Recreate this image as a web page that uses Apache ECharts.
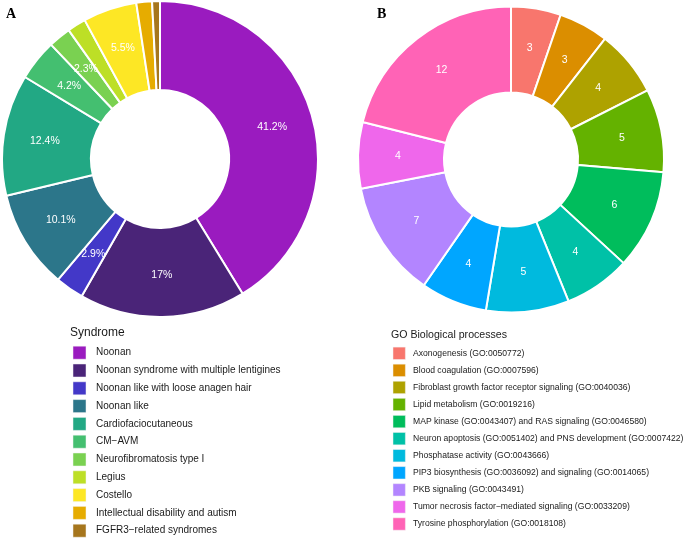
<!DOCTYPE html>
<html><head><meta charset="utf-8">
<script src="https://cdn.jsdelivr.net/npm/echarts@6/dist/echarts.min.js"></script>
<style>html,body{margin:0;padding:0;background:#fff}#c{width:685px;height:538px}</style>
</head><body><div id="c"></div>
<script>
const syndromes = ["Noonan","Noonan syndrome with multiple lentigines","Noonan like with loose anagen hair","Noonan like","Cardiofaciocutaneous","CM\u2212AVM","Neurofibromatosis type I","Legius","Costello","Intellectual disability and autism","FGFR3\u2212related syndromes"];
const syndromePct = [41.2,17,2.9,10.1,12.4,4.2,2.3,1.9,5.5,1.6,0.8];
const syndromeColors = ["#9A1BBF","#4A2478","#4338C8","#2C768A","#22A884","#44BF70","#7AD151","#BDDF26","#FDE725","#E6AC00","#A6761D"];
const goTerms = ["Axonogenesis (GO:0050772)","Blood coagulation (GO:0007596)","Fibroblast growth factor receptor signaling (GO:0040036)","Lipid metabolism (GO:0019216)","MAP kinase (GO:0043407) and RAS signaling (GO:0046580)","Neuron apoptosis (GO:0051402) and PNS development (GO:0007422)","Phosphatase activity (GO:0043666)","PIP3 biosynthesis (GO:0036092) and signaling (GO:0014065)","PKB signaling (GO:0043491)","Tumor necrosis factor\u2212mediated signaling (GO:0033209)","Tyrosine phosphorylation (GO:0018108)"];
const goCounts = [3,3,4,5,6,4,5,4,7,4,12];
const goColors = ["#F8766D","#DB8E00","#AEA200","#64B200","#00BD5C","#00C1A7","#00BADE","#00A6FF","#B385FF","#EF67EB","#FF63B6"];

const font = "Liberation Sans, Arial, Helvetica, sans-serif";
const chart = echarts.init(document.getElementById('c'), null, {renderer:'canvas'});

function legendGraphics(names, colors, keyX, textX, y0, step, size, fontSize) {
  const out = [];
  names.forEach((n, i) => {
    const cy = y0 + i * step;
    out.push({type:'rect', shape:{x:keyX, y:cy - size/2, width:size, height:size},
      style:{fill:colors[i], stroke:'#f2f2f2', lineWidth:0.5}, silent:true});
    out.push({type:'text', x:textX, y:cy, style:{text:n, fill:'#1a1a1a', font:fontSize + 'px ' + font,
      verticalAlign:'middle'}, silent:true});
  });
  return out;
}

const graphics = [
  {type:'text', x:70, y:333, style:{text:'Syndrome', fill:'#1a1a1a', font:'12px ' + font, verticalAlign:'middle'}},
  {type:'text', x:391, y:335, style:{text:'GO Biological processes', fill:'#1a1a1a', font:'10.6px ' + font, verticalAlign:'middle'}},
  ...legendGraphics(syndromes, syndromeColors, 73, 96, 352.7, 17.8, 13, 10),
  ...legendGraphics(goTerms, goColors, 393, 413, 353.3, 17.07, 12.4, 8.6)
];

chart.setOption({
  animation:false,
  title:[
    {text:'A', left:1, top:2, textStyle:{fontFamily:'Liberation Serif, Times New Roman, serif', fontWeight:'bold', fontSize:14, color:'#000'}},
    {text:'B', left:372, top:2, textStyle:{fontFamily:'Liberation Serif, Times New Roman, serif', fontWeight:'bold', fontSize:14, color:'#000'}}
  ],
  graphic:graphics,
  series:[
    {
      type:'pie', center:[160,159], radius:[69,158], startAngle:90, clockwise:true,
      avoidLabelOverlap:false,
      itemStyle:{borderColor:'#fff', borderWidth:2},
      label:{show:true, position:'inside', color:'#fff', fontFamily:font, fontSize:10.5,
        formatter:p => p.value + '%'},
      labelLine:{show:false},
      emphasis:{disabled:true},
      data:syndromes.map((n,i)=>({name:n, value:syndromePct[i], itemStyle:{color:syndromeColors[i]},
        label:{show:syndromePct[i] >= 1.8}}))
    },
    {
      type:'pie', center:[511,159.5], radius:[67,153], startAngle:90, clockwise:true,
      avoidLabelOverlap:false,
      itemStyle:{borderColor:'#fff', borderWidth:2},
      label:{show:true, position:'inside', color:'#fff', fontFamily:font, fontSize:10.5,
        formatter:p => String(p.value)},
      labelLine:{show:false},
      emphasis:{disabled:true},
      data:goTerms.map((n,i)=>({name:n, value:goCounts[i], itemStyle:{color:goColors[i]}}))
    }
  ]
});
</script></body></html>
